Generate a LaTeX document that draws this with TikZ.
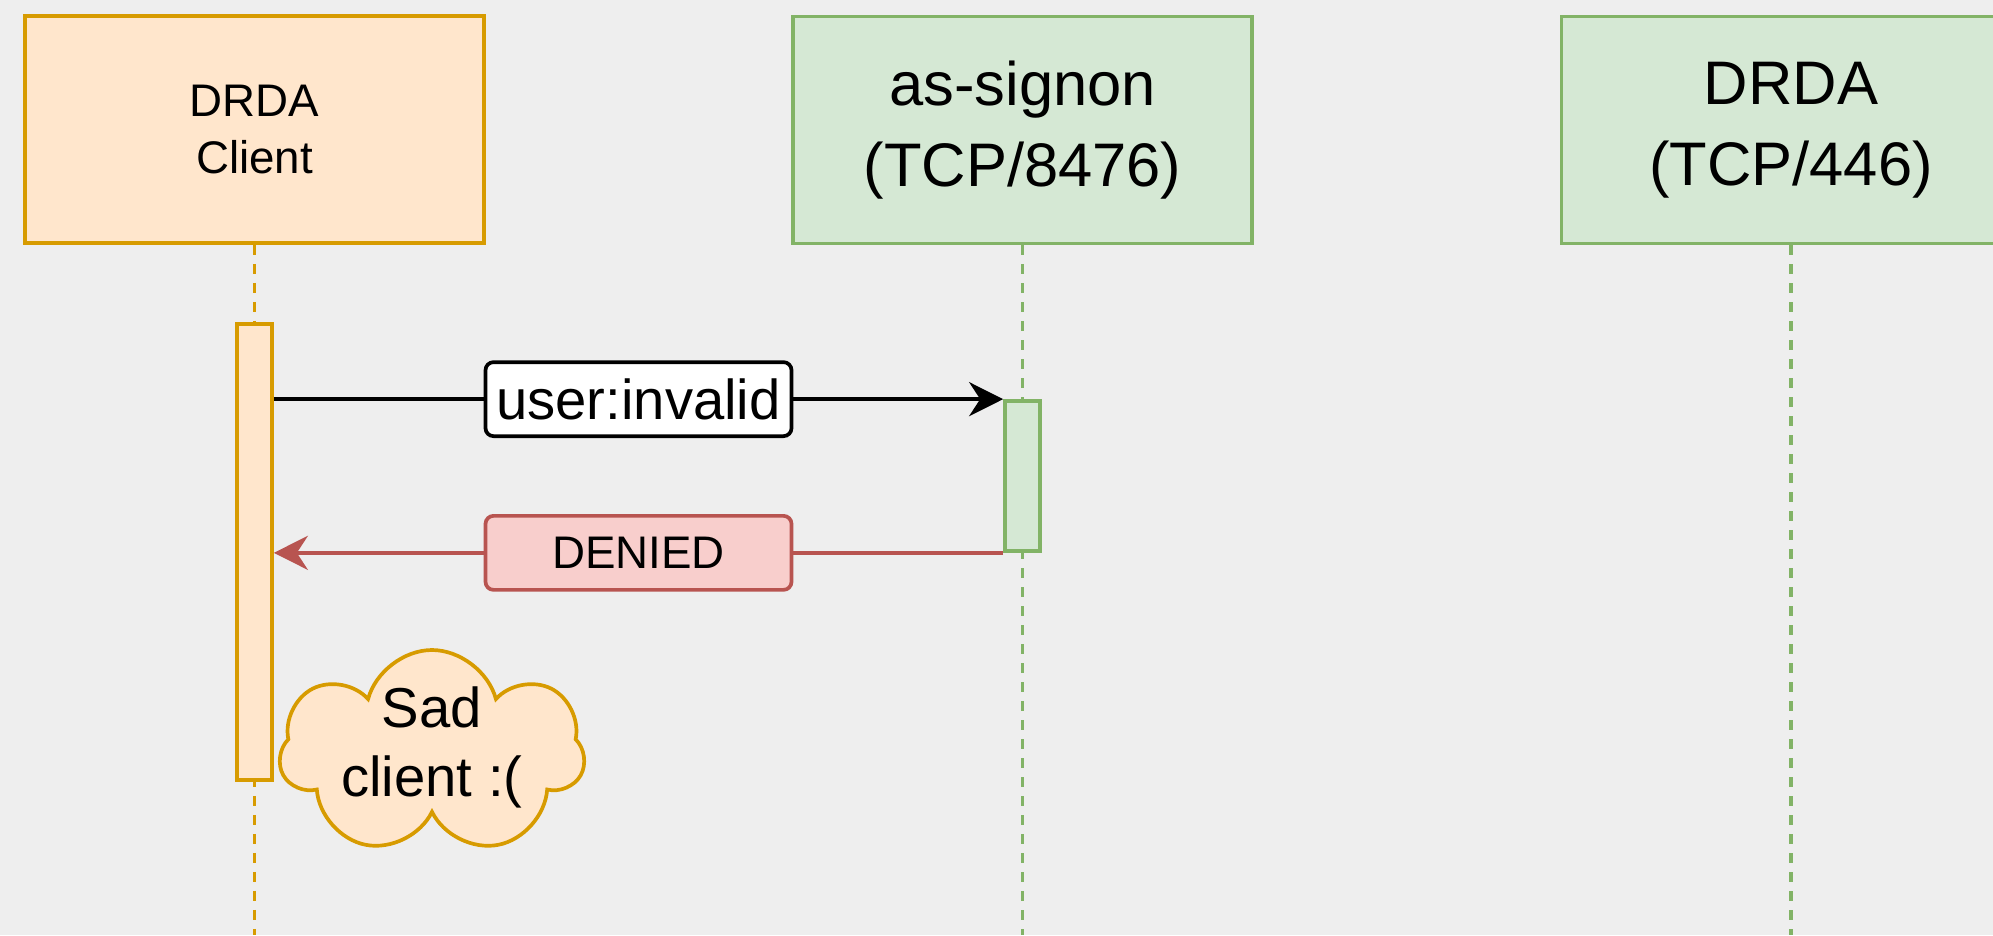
\documentclass[tikz,border=0pt]{standalone}
\usepackage{fontspec}
\setmainfont{Liberation Sans}
\usetikzlibrary{arrows.meta}
\usetikzlibrary{shapes.symbols}

\definecolor{canvas}{HTML}{EEEEEE}
\definecolor{orangefill}{HTML}{FFE6CC}
\definecolor{orangeline}{HTML}{D79B00}
\definecolor{greenfill}{HTML}{D5E8D4}
\definecolor{greenline}{HTML}{82B366}
\definecolor{redfill}{HTML}{F8CECC}
\definecolor{redline}{HTML}{B85450}

\begin{document}
\begin{tikzpicture}[
		line width=2.1pt,
		actor/.style={
			rectangle,
			draw,
			align=center,
			minimum width=9.18cm,
			minimum height=4.54cm
		},
		client/.style={
			actor,
			draw=orangeline,
			fill=orangefill,
			font=\fontsize{26}{33}\selectfont
		},
		server/.style={
			actor,
			draw=greenline,
			fill=greenfill,
			font=\fontsize{35}{46}\selectfont
		},
		bar/.style={
			rectangle,
			minimum width=0.7cm
		},
		lifeline/.style={
			dash pattern=on 0.2cm off 0.18cm
		},
		msg/.style={
			rectangle,
			rounded corners=0.16cm,
			draw,
			minimum width=6.12cm,
			minimum height=1.48cm
		},
		tip/.style={
			-{Stealth[length=0.68cm,width=0.68cm,inset=0.22cm]}
		}]

		\useasboundingbox (0,0) rectangle (39.86,-18.7);
		\fill[canvas] (0,0) rectangle (39.86,-18.7);
		\coordinate (bottom) at (0,-18.7);

		%participants
		\node[client] at (5.09,-2.59) (dclient) {DRDA\\Client};
		\node[server] at (20.45,-2.6) (signon) {as-signon\\(TCP/8476)};
		\node[server] at (35.82,-2.6) (drda) {DRDA\\(TCP/446)};

		%lifelines
		\draw[draw=orangeline, lifeline] (dclient.south) -- (dclient.south |- bottom);
		\draw[draw=greenline, lifeline] (signon.south) -- (signon.south |- bottom);
		\draw[draw=greenline, lifeline] (drda.south) -- (drda.south |- bottom);

		%activations
		\node[bar, draw=orangeline, fill=orangefill, minimum height=9.12cm,
			below of=dclient, node distance=8.45cm] (cbar) {};
		\node[bar, draw=greenline, fill=greenfill, minimum height=3.0cm,
			below of=signon, node distance=6.92cm] (sbar) {};

		%messages
		\draw[tip] (cbar.east |- sbar.north west) -- node[msg, fill=white,
			font=\fontsize{32}{38}\selectfont] {user:invalid} (sbar.north west);
		\draw[draw=redline, tip] (sbar.south west) -- node[msg, draw=redline,
			fill=redfill, text=black, font=\fontsize{26}{31}\selectfont] {DENIED}
			(cbar.east |- sbar.south west);

		%sad client
		\node[cloud, cloud puffs=7, cloud ignores aspect,
			draw=orangeline,
			fill=orangefill,
			minimum width=6.1cm,
			minimum height=4.1cm] at (8.64,-15.05) (sad) {};
		\node[align=center, font=\fontsize{32}{39}\selectfont]
			at (8.64,-14.95) (sadtext) {Sad\\client :(};

	\end{tikzpicture}
\end{document}
